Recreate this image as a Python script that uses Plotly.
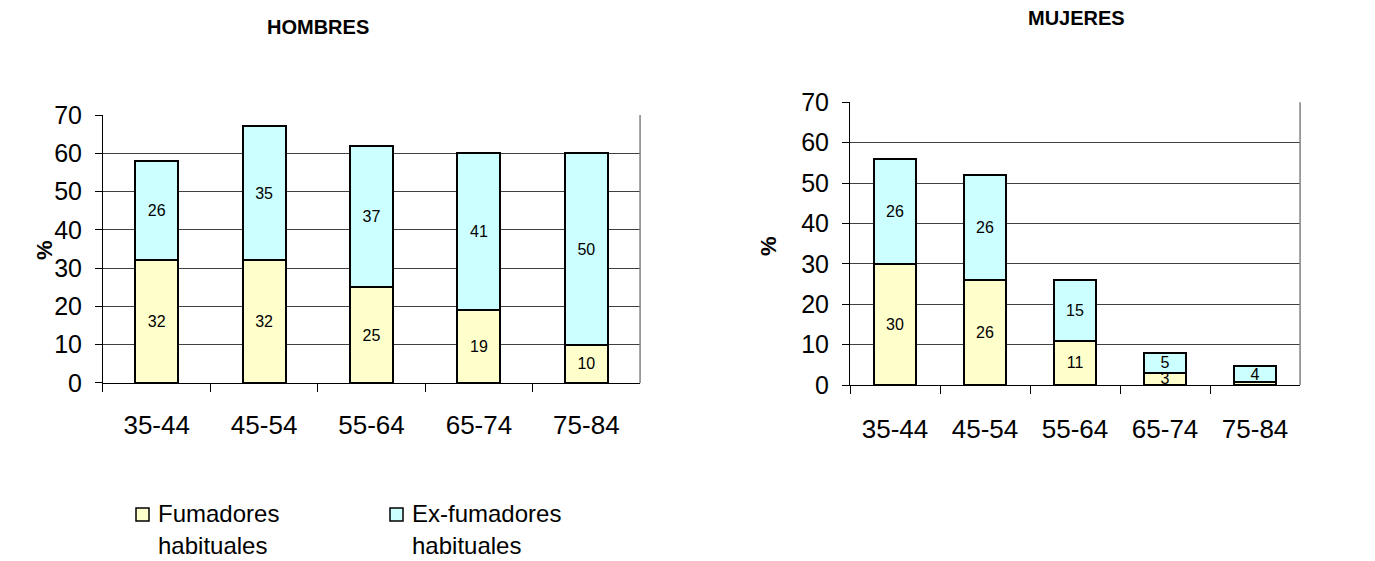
import plotly.graph_objects as go

# Age groups on the category axis
grupos = ["35-44", "45-54", "55-64", "65-74", "75-84"]

# Men: habitual smokers and former habitual smokers (%)
hombres_fumadores = [32, 32, 25, 19, 10]
hombres_exfumadores = [26, 35, 37, 41, 50]

# Women: habitual smokers and former habitual smokers (%)
mujeres_fumadores = [30, 26, 11, 3, 0.7]
mujeres_exfumadores = [26, 26, 15, 5, 4]
# the smallest segment carries no printed value
mujeres_fumadores_txt = ["30", "26", "11", "3", ""]

series_nombres = ["Fumadores habituales", "Ex-fumadores habituales"]
leyenda_lineas = [["Fumadores", "habituales"], ["Ex-fumadores", "habituales"]]
y_ticks = [0, 10, 20, 30, 40, 50, 60, 70]

FONT = "Arial, Liberation Sans, sans-serif"
AMARILLO = "#FFFFCC"
CELESTE = "#CCFFFF"
GRID = "#404040"
W, H = 1375, 561

fig = go.Figure()


def add_bars(xa, ya, fum, exf, fum_txt, width):
    fig.add_trace(go.Bar(
        x=grupos, y=fum, name=series_nombres[0], xaxis=xa, yaxis=ya,
        width=width, text=fum_txt, textposition="inside",
        insidetextanchor="middle", textangle=0,
        textfont=dict(family=FONT, size=16, color="black"),
        marker=dict(color=AMARILLO, line=dict(color="black", width=2)),
        showlegend=False,
    ))
    fig.add_trace(go.Bar(
        x=grupos, y=exf, name=series_nombres[1], xaxis=xa, yaxis=ya,
        width=width, text=[str(v) for v in exf], textposition="inside",
        insidetextanchor="middle", textangle=0,
        textfont=dict(family=FONT, size=16, color="black"),
        marker=dict(color=CELESTE, line=dict(color="black", width=2)),
        showlegend=False,
    ))


add_bars("x", "y", hombres_fumadores, hombres_exfumadores,
         [str(v) for v in hombres_fumadores], 0.4)
add_bars("x2", "y2", mujeres_fumadores, mujeres_exfumadores,
         mujeres_fumadores_txt, 0.47)

xaxis_common = dict(
    type="category", showline=True, linecolor="black", linewidth=1,
    ticks="outside", tickson="boundaries", ticklen=8, tickcolor="black",
    tickfont=dict(family=FONT, size=26, color="black"),
    showgrid=False, fixedrange=True, automargin=False,
)
yaxis_common = dict(
    range=[0, 70], tickvals=y_ticks, showline=True, linecolor="black",
    linewidth=1, ticks="outside", ticklen=7, tickcolor="black",
    tickfont=dict(family=FONT, size=25, color="black"),
    ticklabelstandoff=8, showgrid=True, gridcolor=GRID, gridwidth=1,
    zeroline=False, fixedrange=True, automargin=False,
)

fig.update_layout(
    width=W, height=H,
    margin=dict(l=0, r=0, t=0, b=0, pad=0, autoexpand=False),
    paper_bgcolor="white", plot_bgcolor="white",
    barmode="stack", bargap=0.6,
    font=dict(family=FONT, color="black"),
    uniformtext=dict(minsize=16, mode="show"),
    showlegend=False,
    xaxis=dict(domain=[0.0749, 0.4655], anchor="y", ticklabelstandoff=19,
               **xaxis_common),
    yaxis=dict(domain=[0.3173, 0.7950], anchor="x", **yaxis_common),
    xaxis2=dict(domain=[0.6182, 0.9455], anchor="y2", ticklabelstandoff=21,
                **xaxis_common),
    yaxis2=dict(domain=[0.3137, 0.8177], anchor="x2", **yaxis_common),
)

# Gray right border of each plot area
for xref, yref in [("x domain", "y domain"), ("x2 domain", "y2 domain")]:
    fig.add_shape(type="line", xref=xref, yref=yref, x0=1, x1=1, y0=0, y1=1,
                  line=dict(color="#808080", width=1.5))


def px_x(v):
    return v / W


def px_y(v):
    return 1 - v / H


def note(text, x, y, size, xanchor="center", angle=0):
    fig.add_annotation(text=text, x=px_x(x), y=px_y(y), xref="paper",
                       yref="paper", xanchor=xanchor, yanchor="middle",
                       showarrow=False, textangle=angle,
                       font=dict(family=FONT, size=size, color="black"))


# Panel titles
note("<b>HOMBRES</b>", 318, 27, 20)
note("<b>MUJERES</b>", 1076, 18, 20)

# Y-axis titles
note("<b>%</b>", 45, 250, 22, angle=-90)
note("<b>%</b>", 768, 246, 22, angle=-90)

# Legend below the men's panel
for i, (color, lineas) in enumerate(zip([AMARILLO, CELESTE], leyenda_lineas)):
    x0 = 136 + 254 * i
    fig.add_shape(type="rect", xref="paper", yref="paper",
                  x0=px_x(x0), x1=px_x(x0 + 13), y0=px_y(508), y1=px_y(521),
                  fillcolor=color, line=dict(color="black", width=1.5))
    for j, linea in enumerate(lineas):
        note(linea, x0 + 20, 513 + 32 * j, 24, xanchor="left")

fig.write_html("out.html")
